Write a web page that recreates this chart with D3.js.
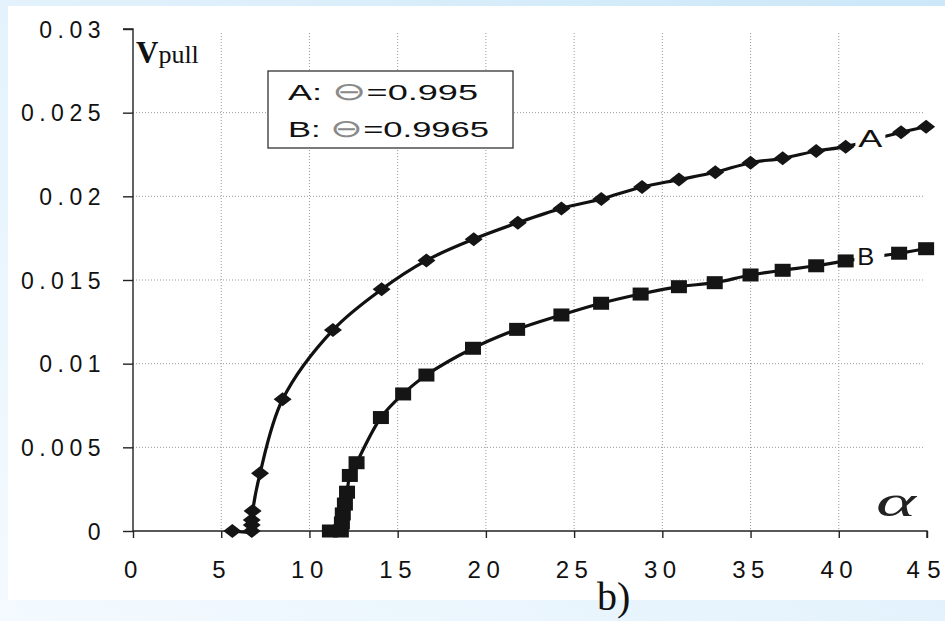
<!DOCTYPE html>
<html>
<head>
<meta charset="utf-8">
<script src="https://cdn.jsdelivr.net/npm/d3@7"></script>
<style>
html, body { margin:0; padding:0; background:#fff; }
svg { display:block; }
</style>
</head>
<body>
<div id="c_plot"></div>
<script>
// curve A (diamonds)
var alphaA = [5.63, 6.73, 6.73, 6.73, 6.78, 7.20, 8.48, 11.33, 14.09, 16.63, 19.31, 21.81, 24.28, 26.54, 28.85, 30.94, 33.0, 35.0, 36.82, 38.72, 40.39, 43.53, 44.95];
var vpullA = [0, 0, 0.00036, 0.00066, 0.0012, 0.00345, 0.00787, 0.01201, 0.01444, 0.01617, 0.01744, 0.01842, 0.01928, 0.01984, 0.02056, 0.02100, 0.02144, 0.02201, 0.02227, 0.02271, 0.02297, 0.02383, 0.02416];

// curve B (squares)
var alphaB = [11.16, 11.78, 11.84, 11.89, 12.01, 12.13, 12.29, 12.67, 14.05, 15.31, 16.63, 19.27, 21.77, 24.28, 26.53, 28.77, 30.94, 32.97, 35.0, 36.82, 38.72, 40.39, 43.42, 44.95];
var vpullB = [0, 0, 0.00048, 0.00102, 0.00161, 0.00232, 0.00332, 0.00408, 0.00678, 0.00819, 0.00932, 0.01092, 0.01205, 0.01291, 0.01361, 0.01416, 0.0146, 0.01484, 0.0153, 0.01558, 0.01585, 0.01614, 0.0166, 0.01687];

var xTicks = [0, 5, 10, 15, 20, 25, 30, 35, 40, 45];
var yTicks = [0, 0.005, 0.01, 0.015, 0.02, 0.025, 0.03];
var yTickLabels = ["0", "0.005", "0.01", "0.015", "0.02", "0.025", "0.03"];
var xGrid = [5, 10, 15, 20, 25, 30, 35, 40];
var yGrid = [0.005, 0.01, 0.015, 0.02, 0.025];

var legendNames = ["A: ", "B: "];
var legendValues = ["=0.995", "=0.9965"];
var seriesNames = ["A", "B"];

var W = 945, H = 621;
var svg = d3.select("#c_plot").append("svg")
  .attr("width", W).attr("height", H);

// background frame
var defs = svg.append("defs");
var grad = defs.append("linearGradient").attr("id", "bg")
  .attr("x1", "0").attr("y1", "1").attr("x2", "1").attr("y2", "0");
grad.append("stop").attr("offset", "0").attr("stop-color", "#f4faff");
grad.append("stop").attr("offset", "0.5").attr("stop-color", "#e3f2fc");
grad.append("stop").attr("offset", "1").attr("stop-color", "#cbe7f8");
svg.append("rect").attr("width", W).attr("height", H).attr("fill", "url(#bg)");
svg.append("rect").attr("x", 8).attr("y", 6).attr("width", W - 8).attr("height", 594).attr("fill", "#fff");

var x = d3.scaleLinear().domain([0, 45]).range([133, 927]);
var y = d3.scaleLinear().domain([0, 0.03]).range([531, 29]);

// grid
svg.append("g").selectAll("line").data(xGrid).join("line")
  .attr("x1", d => x(d)).attr("x2", d => x(d))
  .attr("y1", y(0.03) + 4).attr("y2", y(0))
  .attr("stroke", "#999").attr("stroke-width", 1).attr("stroke-dasharray", "1,2");
svg.append("g").selectAll("line").data(yGrid).join("line")
  .attr("x1", x(0)).attr("x2", x(45) - 4)
  .attr("y1", d => y(d)).attr("y2", d => y(d))
  .attr("stroke", "#999").attr("stroke-width", 1).attr("stroke-dasharray", "1,2");

// axes
var yAxis = svg.append("g")
  .attr("transform", "translate(" + x(0) + ",0)")
  .call(d3.axisLeft(y).tickValues(yTicks).tickSize(10).tickPadding(17)
    .tickFormat((d, i) => yTickLabels[i]));
var xAxis = svg.append("g")
  .attr("transform", "translate(0," + y(0) + ")")
  .call(d3.axisBottom(x).tickValues(xTicks).tickSize(7));

svg.selectAll(".domain").attr("stroke", "#222").attr("stroke-width", 1.4);
svg.selectAll(".tick line").attr("stroke", "#222").attr("stroke-width", 1.4);
yAxis.select(".domain").attr("d", "M-10," + y(0.03) + "H0V" + y(0));
xAxis.select(".domain").attr("d", "M" + x(0) + ",0H" + x(45) + "V7");

yAxis.selectAll("text")
  .attr("font-family", "Liberation Sans, Arial, sans-serif")
  .attr("font-size", 23).attr("letter-spacing", "5.5px")
  .attr("fill", "#111").attr("dy", "0.36em");
xAxis.selectAll("text")
  .attr("font-family", "Liberation Sans, Arial, sans-serif")
  .attr("font-size", 24).attr("letter-spacing", "5.5px")
  .attr("fill", "#111").attr("y", 47).attr("dy", 0);
xAxis.selectAll(".tick").filter(d => d == 45).select("text")
  .attr("letter-spacing", "0px").attr("text-anchor", "start").attr("x", -21)
  .attr("textLength", 34);

// curves
var line = d3.line().x(d => x(d[0])).y(d => y(d[1])).curve(d3.curveCatmullRom.alpha(0.5));
var ptsA = alphaA.map((a, i) => [a, vpullA[i]]);
var ptsB = alphaB.map((a, i) => [a, vpullB[i]]);

[ptsA, ptsB].forEach(function(pts){
  svg.append("path").attr("d", line(pts))
    .attr("fill", "none").attr("stroke", "#111").attr("stroke-width", 3.2);
});

svg.append("g").selectAll("path").data(ptsA).join("path")
  .attr("transform", d => "translate(" + x(d[0]) + "," + y(d[1]) + ")")
  .attr("d", "M-9,0L0,-7L9,0L0,7Z").attr("fill", "#151515");
svg.append("g").selectAll("rect").data(ptsB).join("rect")
  .attr("x", d => x(d[0]) - 8).attr("y", d => y(d[1]) - 6.5)
  .attr("width", 16).attr("height", 13).attr("fill", "#151515");

// series labels, between the last points
[ptsA, ptsB].forEach(function(pts, k){
  var p = pts[pts.length - 3], q = pts[pts.length - 2];
  var cx = (x(p[0]) + x(q[0])) / 2 - 3;
  var cy = (y(p[1]) + y(q[1])) / 2;
  svg.append("rect").attr("x", cx - 15).attr("y", cy - 11).attr("width", 30).attr("height", 22).attr("fill", "#fff");
  svg.append("text").attr("x", cx - 12).attr("y", cy + 8)
    .attr("font-family", "Liberation Sans, Arial, sans-serif").attr("font-size", 24)
    .attr("textLength", k == 0 ? 24 : 17).attr("lengthAdjust", "spacingAndGlyphs")
    .attr("fill", "#111").text(seriesNames[k]);
});

// legend
svg.append("rect").attr("x", 268).attr("y", 71).attr("width", 245).attr("height", 77)
  .attr("fill", "#fff").attr("stroke", "#333").attr("stroke-width", 1.3);
legendNames.forEach(function(n, i){
  var t = svg.append("text").attr("x", 288).attr("y", 99.5 + i * 37)
    .attr("font-family", "Liberation Sans, Arial, sans-serif").attr("font-size", 22)
    .attr("textLength", i == 0 ? 190 : 201).attr("lengthAdjust", "spacingAndGlyphs")
    .attr("fill", "#111");
  t.append("tspan").text(n);
  t.append("tspan").attr("fill", "#8a8a8a").attr("font-family", "DejaVu Sans").attr("font-size", 25)
    .attr("font-weight", 100).text("\u2296");
  t.append("tspan").text(legendValues[i]);
});

// axis titles
var vt = svg.append("text").attr("x", 136).attr("y", 63)
  .attr("font-family", "Liberation Serif, Times New Roman, serif").attr("fill", "#111");
vt.append("tspan").attr("font-size", 31).attr("font-weight", "bold").text("V");
vt.append("tspan").attr("font-size", 26).text("pull");

svg.append("text").attr("x", 876).attr("y", 516)
  .attr("font-family", "Liberation Serif, Times New Roman, serif").attr("font-style", "italic")
  .attr("font-size", 44).attr("textLength", 40).attr("lengthAdjust", "spacingAndGlyphs")
  .attr("fill", "#222").text("\u03b1");

svg.append("text").attr("x", 597).attr("y", 610)
  .attr("font-family", "Liberation Serif, Times New Roman, serif")
  .attr("font-size", 40).attr("fill", "#111").text("b)");
</script>
</body>
</html>
